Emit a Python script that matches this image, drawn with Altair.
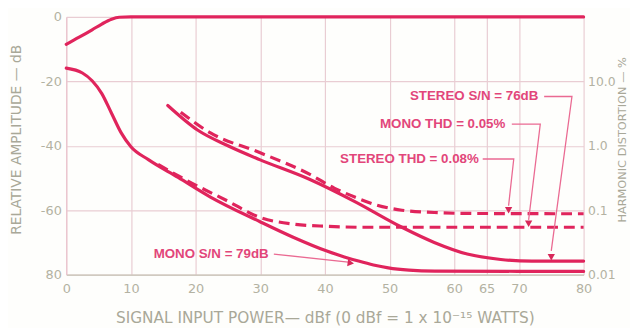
import altair as alt
import pandas as pd

# ---------------- data ----------------
# 0 dB reference (signal response) curve
resp_x = [0, 2, 4, 5.5, 7, 8.2, 10, 80]
resp_y = [-8.5, -6.3, -4.0, -2.2, -0.7, -0.1, 0, 0]

# Mono S/N (solid, lower)
mono_sn_x = [0, 2.5, 4, 5.5, 7, 8.5, 10, 12.7, 17.3, 22.3, 29.9, 35, 40.2, 43, 45.2, 47.5, 49.8, 53, 57, 80]
mono_sn_y = [-15.9, -17.4, -19.8, -23.8, -29.9, -36.0, -40.3, -44.3, -49.8, -55.9, -63.5,
             -68.3, -72.6, -74.5, -75.8, -77.0, -77.9, -78.6, -78.9, -79.0]

# Mono THD (dashed, lower)
mono_thd_x = [14.2, 18.3, 24.9, 29.9, 35.1, 40.2, 46, 80]
mono_thd_y = [-45.8, -50.4, -57.1, -62.2, -64.3, -65.0, -65.3, -65.3]

# Stereo S/N (solid, upper)
stereo_sn_x = [15.7, 20.3, 25, 29.9, 37.6, 44.7, 51.9, 56.9, 62, 67.2, 72, 80]
stereo_sn_y = [-27.5, -35.1, -40.0, -44.3, -50.4, -57.4, -65.3, -70.0, -73.6, -75.3, -75.8, -75.8]

# Stereo THD (dashed, upper)
stereo_thd_x = [17.7, 22.3, 29.9, 37.6, 41.5, 44.7, 48, 51.9, 56.9, 62, 80]
stereo_thd_y = [-29.6, -36.0, -42.1, -48.8, -53.2, -56.0, -58.4, -60.0, -60.7, -61.0, -61.1]

# axis ticks / labels
x_ticks = [0, 10, 20, 30, 40, 50, 60, 65, 70, 80]
left_vals = [0, -20, -40, -60, -80]
left_labels = ["0", "-20", "-40", "-60", "80"]
right_vals = [-20, -40, -60, -80]
right_labels = ["10.0", "1.0", "0.1", "0.01"]

# annotations (text anchored at right end)
ann_text = ["STEREO S/N = 76dB", "MONO THD = 0.05%", "STEREO THD = 0.08%", "MONO S/N = 79dB"]
ann_x = [73.0, 67.9, 63.8, 31.3]
ann_y = [-24.7, -33.3, -44.1, -73.6]

# leader lines
lead_stsn_x = [73.9, 78.2, 75.0]
lead_stsn_y = [-24.7, -24.7, -72.6]
lead_mothd_x = [68.9, 73.3, 71.5]
lead_mothd_y = [-33.3, -33.3, -63.0]
lead_stthd_x = [64.4, 69.2, 68.4]
lead_stthd_y = [-44.1, -44.1, -58.6]
lead_mosn_x = [32.1, 43.6]
lead_mosn_y = [-73.6, -76.1]

# arrow heads
head_x = [75.0, 71.5, 68.4]
head_y = [-74.6, -64.2, -60.0]
head2_x = [44.0]
head2_y = [-76.4]

# ---------------- styles ----------------
CURVE = "#e0245c"
LEAD = "#ea6a92"
ANN = "#e2467a"
LABEL = "#b3b2a2"
TITLE = "#a9a898"
GRID = "#e9cdd3"
AXFONT = "DejaVu Sans"


def frame(name, xs, ys):
    return pd.DataFrame({"x": xs, "y": ys, "s": name, "i": list(range(len(xs)))})


solid = pd.concat([
    frame("resp", resp_x, resp_y),
    frame("mono_sn", mono_sn_x, mono_sn_y),
    frame("stereo_sn", stereo_sn_x, stereo_sn_y),
])
dashed = pd.concat([
    frame("mono_thd", mono_thd_x, mono_thd_y),
    frame("stereo_thd", stereo_thd_x, stereo_thd_y),
])
leaders = pd.concat([
    frame("a", lead_stsn_x, lead_stsn_y),
    frame("b", lead_mothd_x, lead_mothd_y),
    frame("c", lead_stthd_x, lead_stthd_y),
    frame("d", lead_mosn_x, lead_mosn_y),
])
heads = pd.DataFrame({"x": head_x, "y": head_y})
heads2 = pd.DataFrame({"x": head2_x, "y": head2_y})
anns = pd.DataFrame({"x": ann_x, "y": ann_y, "t": ann_text})


def expr(vals, labels):
    e = "''"
    for v, l in reversed(list(zip(vals, labels))):
        e = f"datum.value == {v} ? '{l}' : ({e})"
    return e


yscale = alt.Scale(domain=[-80, 0], nice=False, zero=False)

X = alt.X(
    "x:Q",
    scale=alt.Scale(domain=[0, 80], nice=False, zero=False),
    axis=alt.Axis(
        values=x_ticks, format="d", grid=True, gridColor=GRID, gridWidth=1.2,
        ticks=False, tickSize=0, domainColor="#c6c5b6", domainWidth=1.2,
        labelColor=LABEL, labelFont=AXFONT, labelFontSize=13, labelPadding=8,
        labelFlush=False, labelOverlap=False,
        title="SIGNAL INPUT POWER\u2014 dBf (0 dBf = 1 x 10\u207b\u00b9\u2075 WATTS)",
        titleFont=AXFONT, titleFontSize=15.5, titleFontWeight="normal",
        titleColor=TITLE, titleY=43, titleBaseline="middle",
    ),
)

Y_left = alt.Y(
    "y:Q", scale=yscale,
    axis=alt.Axis(
        orient="left", values=left_vals, labelExpr=expr(left_vals, left_labels),
        grid=True, gridColor=GRID, gridWidth=1.2, ticks=False, tickSize=0,
        domainColor="#ebc3cd", domainWidth=1.2,
        labelColor=LABEL, labelFont=AXFONT, labelFontSize=13, labelPadding=5,
        labelFlush=False, labelOverlap=False,
        title="RELATIVE AMPLITUDE \u2014 dB", titleFont=AXFONT, titleFontSize=14,
        titleFontWeight="normal", titleColor=TITLE, titleAngle=270,
        titleX=-50, titleY=124, titleAlign="center", titleBaseline="middle",
    ),
)

Y_right = alt.Y(
    "y:Q", scale=yscale,
    axis=alt.Axis(
        orient="right", values=right_vals, labelExpr=expr(right_vals, right_labels),
        grid=False, ticks=False, tickSize=0, domain=False,
        labelColor=LABEL, labelFont=AXFONT, labelFontSize=12.5, labelPadding=4,
        labelFlush=False, labelOverlap=False,
        title="HARMONIC DISTORTION \u2014 %", titleFont=AXFONT, titleFontSize=11.5,
        titleFontWeight="normal", titleColor=TITLE, titleAngle=270,
        titleX=39, titleY=124, titleAlign="center", titleBaseline="middle",
    ),
)

Y_none = alt.Y("y:Q", scale=yscale, axis=None)

solid_layer = alt.Chart(solid).mark_line(
    color=CURVE, strokeWidth=3.2, strokeCap="round", interpolate="monotone"
).encode(x=X, y=Y_left, detail="s:N", order="i:Q")

dashed_layer = alt.Chart(dashed).mark_line(
    color=CURVE, strokeWidth=3.2, strokeDash=[11, 6], interpolate="monotone"
).encode(x=X, y=Y_right, detail="s:N", order="i:Q")

leader_layer = alt.Chart(leaders).mark_line(
    color=LEAD, strokeWidth=1.3
).encode(x=X, y=Y_none, detail="s:N", order="i:Q")

head_layer = alt.Chart(heads).mark_point(
    shape="triangle-down", filled=True, size=55, color="#d8285a", opacity=1
).encode(x=X, y=Y_none)

head2_layer = alt.Chart(heads2).mark_point(
    shape="triangle-right", angle=8, filled=True, size=55, color="#d8285a", opacity=1
).encode(x=X, y=Y_none)

text_layer = alt.Chart(anns).mark_text(
    align="right", baseline="middle", font="Liberation Sans", fontWeight="bold",
    fontSize=13.5, color=ANN
).encode(x=X, y=Y_none, text="t:N")

chart = alt.layer(
    solid_layer, dashed_layer, leader_layer, head_layer, head2_layer, text_layer
).resolve_axis(y="independent").properties(
    width=524, height=261,
    padding={"left": 59, "top": 7, "right": 47, "bottom": 52},
    autosize=alt.AutoSizeParams(type="none"),
    background="#fefefc",
).configure_view(strokeWidth=0)

chart.save("out.html", embed_options={"renderer": "svg", "actions": False})
